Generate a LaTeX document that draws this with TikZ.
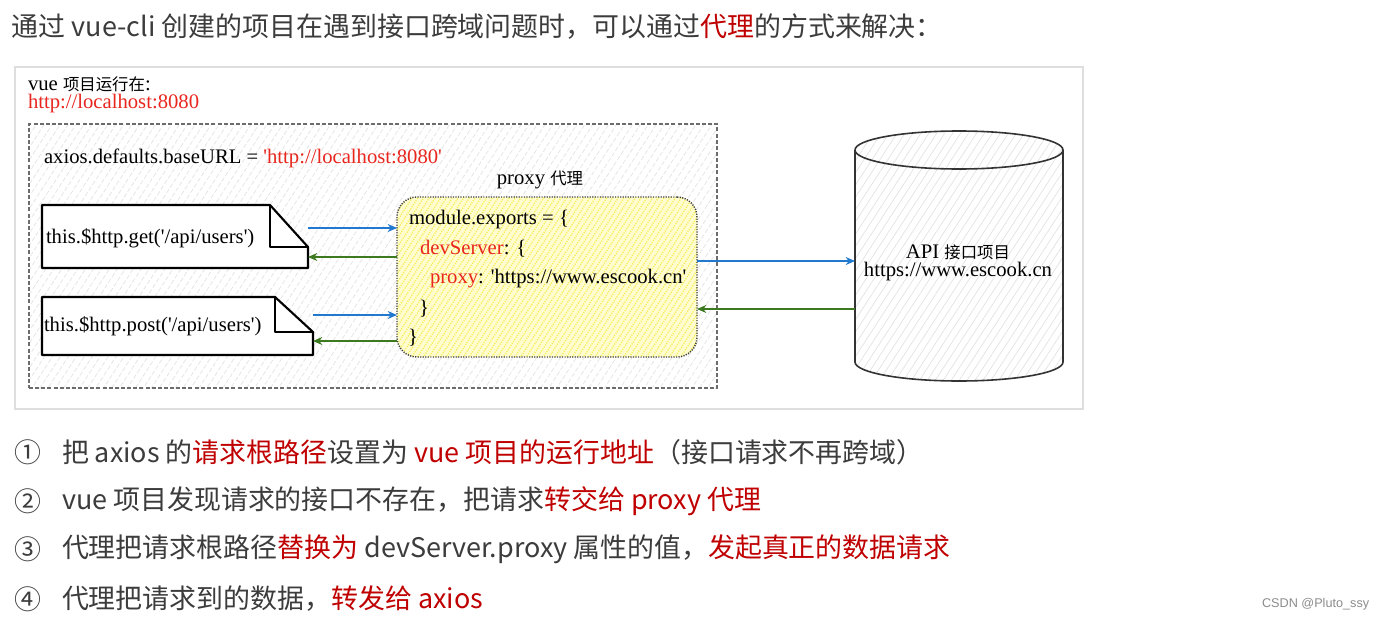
\documentclass[tikz,border=0pt]{standalone}
\usepackage{fontspec}
\setmainfont{Liberation Serif}[Ligatures=TeXOff]
\newfontfamily\cjk{Noto Sans CJK SC}
\newfontfamily\wmfont{Liberation Sans}
\usetikzlibrary{arrows.meta,patterns.meta}
\definecolor{tgray}{HTML}{3C3C3C}
\definecolor{tred}{HTML}{C00000}
\definecolor{dred}{HTML}{E8261E}
\definecolor{ablue}{HTML}{2079CF}
\definecolor{agreen}{HTML}{3D7A1F}
\definecolor{frameg}{HTML}{DEDEDE}
\definecolor{hatchg}{HTML}{E2E2E2}
\definecolor{hatchy}{HTML}{F5EC55}
\definecolor{filly}{HTML}{FFFDD0}
\newcommand{\dcjk}[1]{{\cjk\fontsize{12.3}{14}\selectfont #1}}
\begin{document}
\begin{tikzpicture}[x=0.75pt,y=-0.75pt,
  every node/.style={inner sep=0pt, outer sep=0pt},
  big/.style={font=\cjk\fontsize{20.2}{24}\selectfont, text=tgray, anchor=west},
  dtext/.style={font=\fontsize{15.5}{18}\selectfont, text=black, anchor=west},
  hatch/.style={pattern={Lines[angle=57,distance=5pt,line width=0.5pt]}, pattern color=hatchg},
  docline/.style={draw=black, line width=1.6pt, line join=round},
  barrow/.style={draw=ablue, line width=0.9pt, -{Stealth[length=7pt,width=6pt]}},
  garrow/.style={draw=agreen, line width=0.9pt, -{Stealth[length=7pt,width=6pt]}},
]
\path[use as bounding box, fill=white] (0,0) rectangle (1395,621);

% title
\node[big] (title) at (12,27) {通过 vue-cli 创建的项目在遇到接口跨域问题时，可以通过\textcolor{tred}{代理}的方式来解决：};

% frame
\node[draw=frameg, fill=white, line width=0.8pt, minimum width=801pt, minimum height=256.5pt] (frame) at (549,238) {};
\node[dtext, align=left, font=\fontsize{15.5}{13.5}\selectfont] (runat) at (28,95) {vue \dcjk{项目运行在}:\\\textcolor{dred}{http://localhost:8080}};

% vue project dashed box
\node[draw=gray!85!black, dashed, dash pattern=on 3pt off 1.6pt, line width=1.2pt,
      preaction={fill=white}, hatch, minimum width=516pt, minimum height=198pt] (vuebox) at (373,256) {};
\node[dtext] (baseurl) at (44,158) {axios.defaults.baseURL = \textcolor{dred}{'http://localhost:8080'}};

% proxy box
\node[dtext, anchor=center] (proxylbl) at (540,180) {proxy \dcjk{代理}};
\node[draw=black!75, densely dotted, line width=1.1pt, rounded corners=15pt,
      preaction={fill=filly}, pattern={Lines[angle=57,distance=3.6pt,line width=0.9pt]}, pattern color=hatchy,
      minimum width=225pt, minimum height=120pt] (proxy) at (547,277) {};
\node[dtext] (c1) at (409,220) {module.exports = \{};
\node[dtext] (c2) at (420,249) {\textcolor{dred}{devServer}: \{};
\node[dtext] (c3) at (430,279) {\textcolor{dred}{proxy}: 'https://www.escook.cn'};
\node[dtext] (c4) at (419,309) {\}};
\node[dtext] (c5) at (408,338) {\}};

% document shapes
\node[minimum width=199.5pt, minimum height=47.25pt] (get) at (175,236.5) {};
\draw[docline, fill=white] (get.south west) -- (get.north west) -- ([xshift=-28.5pt]get.north east)
  -- ([yshift=15.75pt]get.south east) -- (get.south east) -- cycle;
\draw[docline] ([xshift=-28.5pt]get.north east) -- ([xshift=-28.5pt,yshift=15.75pt]get.south east) -- ([yshift=15.75pt]get.south east);
\node[dtext] (gettxt) at (46,238) {this.\$http.get('/api/users')};

\node[minimum width=203.25pt, minimum height=43.5pt] (post) at (177.5,326) {};
\draw[docline, fill=white] (post.south west) -- (post.north west) -- ([xshift=-28.5pt]post.north east)
  -- ([yshift=17.25pt]post.south east) -- (post.south east) -- cycle;
\draw[docline] ([xshift=-28.5pt]post.north east) -- ([xshift=-28.5pt,yshift=17.25pt]post.south east) -- ([yshift=17.25pt]post.south east);
\node[dtext] (posttxt) at (44,326) {this.\$http.post('/api/users')};

% API cylinder
\node[minimum width=156pt, minimum height=187.5pt] (api) at (959,256) {};
\path[preaction={fill=white}, hatch] ([yshift=-14.25pt]api.north west) -- ([yshift=14.25pt]api.south west)
  arc[start angle=180,end angle=360,x radius=78pt,y radius=14.25pt]
  -- ([yshift=-14.25pt]api.north east)
  arc[start angle=0,end angle=180,x radius=78pt,y radius=14.25pt] -- cycle;
\draw[black!80, line width=1.2pt] ([yshift=-14.25pt]api.north west) -- ([yshift=14.25pt]api.south west)
  arc[start angle=180,end angle=360,x radius=78pt,y radius=14.25pt]
  -- ([yshift=-14.25pt]api.north east)
  arc[start angle=0,end angle=180,x radius=78pt,y radius=14.25pt];
\draw[black!80, line width=1.2pt] ([yshift=-14.25pt]api.north west)
  arc[start angle=180,end angle=360,x radius=78pt,y radius=14.25pt];
\node[dtext, anchor=center, align=center, font=\fontsize{15.5}{13.5}\selectfont] (apitxt) at (958,263) {API \dcjk{接口项目}\\https://www.escook.cn};

% arrows
\draw[barrow] (get.east |- 0,228) -- (proxy.west |- 0,228);
\draw[garrow] (proxy.west |- 0,257) -- (get.east |- 0,257);
\draw[barrow] (post.east |- 0,315) -- (proxy.west |- 0,315);
\draw[garrow] (proxy.west |- 0,341) -- (post.east |- 0,341);
\draw[barrow] (proxy.east |- 0,261) -- (api.west |- 0,261);
\draw[garrow] (api.west |- 0,309) -- (proxy.east |- 0,309);

% list
\node[big] (n1) at (14,452) {①};
\node[big] (l1) at (62,452) {把 axios 的\textcolor{tred}{请求根路径}设置为 \textcolor{tred}{vue 项目的运行地址}（接口请求不再跨域）};
\node[big] (n2) at (14,501) {②};
\node[big] (l2) at (62,501) {vue 项目发现请求的接口不存在，把请求\textcolor{tred}{转交给 proxy 代理}};
\node[big] (n3) at (14,549) {③};
\node[big] (l3) at (62,549) {代理把请求根路径\textcolor{tred}{替换为} devServer.proxy 属性的值，\textcolor{tred}{发起真正的数据请求}};
\node[big] (n4) at (14,599) {④};
\node[big] (l4) at (62,599) {代理把请求到的数据，\textcolor{tred}{转发给 axios}};

% watermark
\node[anchor=west, font=\wmfont\fontsize{9.5}{11}\selectfont, text=black!45] (wm) at (1262,604) {CSDN @Pluto\_ssy};
\end{tikzpicture}
\end{document}
